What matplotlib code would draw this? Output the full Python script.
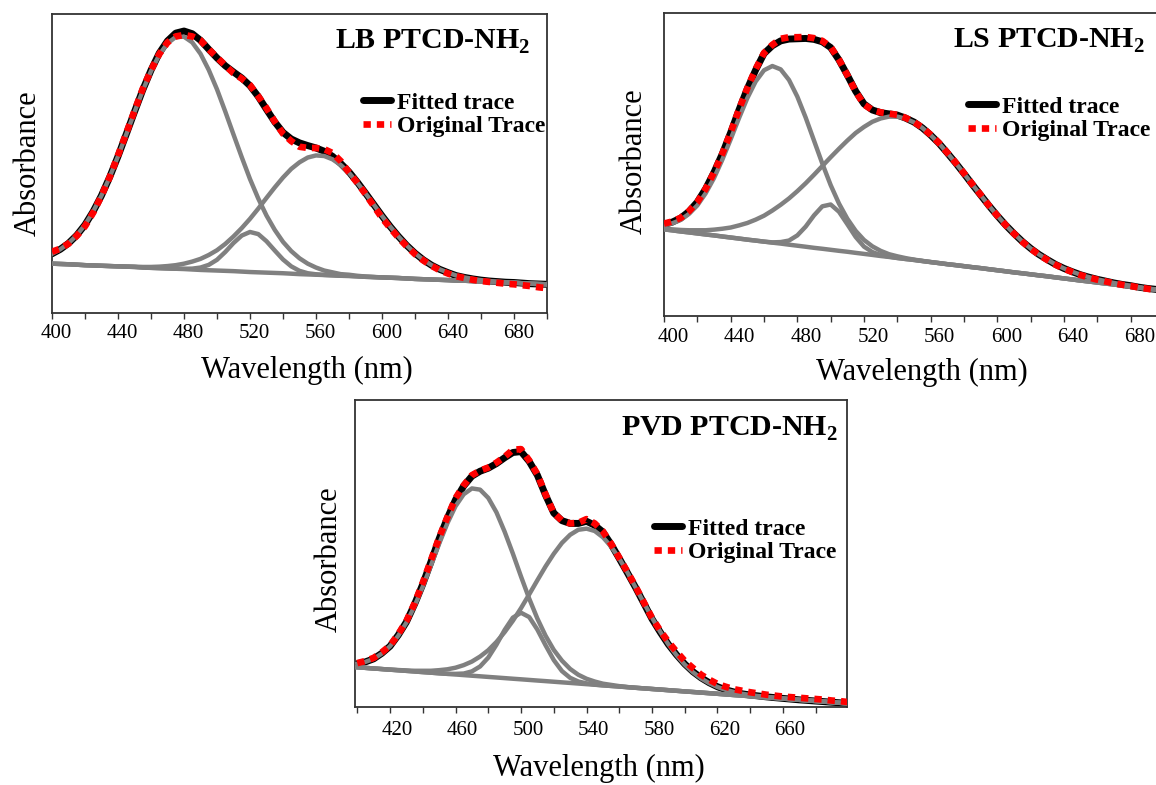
import matplotlib
matplotlib.use('Agg')
import matplotlib.pyplot as plt
from matplotlib.transforms import ScaledTranslation

# Fonts: Times-like serif everywhere
plt.rcParams['font.family'] = ['Liberation Serif', 'DejaVu Serif']
plt.rcParams['mathtext.fontset'] = 'custom'
plt.rcParams['mathtext.rm'] = 'Liberation Serif'
plt.rcParams['mathtext.bf'] = 'Liberation Serif:bold'

# Wavelength grid (nm)
wavelength = [400, 405, 410, 415, 420, 425, 430, 435, 440, 445, 450, 455, 460, 465, 470, 475,
              480, 485, 490, 495, 500, 505, 510, 515, 520, 525, 530, 535, 540, 545, 550, 555,
              560, 565, 570, 575, 580, 585, 590, 595, 600, 605, 610, 615, 620, 625, 630, 635,
              640, 645, 650, 655, 660, 665, 670, 675, 680, 685, 690, 695, 700]

# ---- LB PTCD-NH2 (absorbance, arbitrary units) ----
lb_baseline = [.165, .164, .163, .1616, .160, .159, .158, .157, .156, .155, .154, .152, .151, .150, .149, .148,
               .147, .1455, .144, .143, .142, .141, .140, .1385, .137, .136, .135, .134, .133, .1315, .130, .129,
               .128, .127, .126, .1245, .124, .1225, .121, .120, .119, .118, .117, .1155, .114, .113, .112, .111,
               .110, .1085, .108, .1065, .105, .104, .103, .102, .101, .0995, .098, .097, .096]
lb_peak1 = [.198, .213, .233, .260, .295, .340, .393, .455, .524, .597, .672, .744, .809, .863, .902, .923,
            .924, .905, .867, .813, .748, .674, .597, .521, .448, .383, .326, .278, .238, .207, .183, .165,
            .152, .142, .136, .130, .128, .1245, .122, .1206, .119, .118, .117, .1155, .114, .113, .112, .111,
            .110, .1085, .108, .1065, .105, .104, .103, .102, .101, .0995, .098, .097, .096]
lb_peak2 = [.165, .164, .163, .1616, .160, .159, .158, .157, .156, .155, .154, .152, .151, .150, .149, .148,
            .148, .1484, .152, .161, .178, .204, .234, .259, .271, .264, .240, .209, .179, .156, .141, .133,
            .1295, .1274, .126, .1245, .124, .1225, .121, .120, .119, .118, .117, .1155, .114, .113, .112, .111,
            .110, .1085, .108, .1065, .105, .104, .103, .102, .101, .0995, .098, .097, .096]
lb_peak3 = [.165, .164, .163, .1616, .160, .159, .158, .157, .156, .1557, .155, .154, .154, .155, .157, .160,
            .165, .172, .181, .194, .210, .231, .256, .284, .315, .349, .385, .420, .453, .482, .504, .520,
            .527, .525, .514, .495, .469, .436, .400, .363, .325, .289, .256, .226, .200, .178, .160, .146,
            .135, .1254, .119, .114, .110, .107, .105, .103, .102, .0999, .098, .097, .096]
lb_fitted = [.198, .213, .233, .260, .295, .340, .393, .455, .524, .598, .673, .746, .812, .869, .910, .936,
             .943, .934, .912, .882, .853, .827, .806, .786, .760, .724, .681, .639, .604, .582, .569, .560,
             .552, .541, .524, .500, .472, .438, .401, .363, .325, .289, .256, .226, .200, .178, .160, .146,
             .135, .125, .119, .114, .110, .107, .105, .103, .102, .100, .098, .097, .096]
lb_original = [.205, .215, .232, .258, .290, .336, .392, .455, .527, .601, .676, .750, .812, .866, .905, .925,
               .930, .925, .912, .882, .855, .828, .802, .784, .762, .725, .685, .640, .600, .575, .556, .552,
               .552, .548, .535, .508, .470, .436, .398, .358, .318, .284, .252, .223, .197, .176, .158, .143,
               .132, .123, .117, .111, .107, .104, .101, .098, .096, .093, .090, .086, .083]

# ---- LS PTCD-NH2 ----
ls_baseline = [.286, .2826, .279, .2759, .2725, .2691, .266, .2624, .259, .2556, .252, .2489, .2455, .2421, .239, .2354,
               .232, .2286, .225, .2219, .2185, .2151, .212, .2084, .205, .2016, .198, .1949, .1915, .1881, .185, .1814,
               .178, .1746, .171, .1679, .1645, .1611, .158, .1544, .151, .1476, .144, .1409, .1375, .1341, .131, .1274,
               .124, .1206, .117, .1139, .1105, .1071, .104, .1004, .097, .0936, .090, .0869, .0835]
ls_peak1 = [.299, .306, .317, .337, .365, .405, .455, .516, .583, .653, .719, .774, .811, .825, .814, .779,
            .724, .655, .579, .503, .432, .371, .321, .281, .251, .230, .215, .204, .197, .191, .186, .182,
            .178, .1746, .171, .1679, .1645, .1611, .158, .1544, .151, .1476, .144, .1409, .1375, .1341, .131, .1274,
            .124, .1206, .117, .1139, .1105, .1071, .104, .1004, .097, .0936, .090, .0869, .0835]
ls_peak2 = [.286, .2826, .279, .2759, .2725, .2691, .266, .2624, .259, .2556, .252, .2489, .2455, .243, .244, .249,
            .266, .295, .332, .362, .368, .344, .303, .261, .229, .211, .201, .196, .1915, .1881, .185, .1814,
            .178, .1746, .171, .1679, .1645, .1611, .158, .1544, .151, .1476, .144, .1409, .1375, .1341, .131, .1274,
            .124, .1206, .117, .1139, .1105, .1071, .104, .1004, .097, .0936, .090, .0869, .0835]
ls_peak3 = [.289, .286, .284, .283, .283, .283, .285, .288, .292, .299, .307, .318, .331, .348, .367, .388,
            .412, .438, .466, .495, .524, .552, .579, .604, .624, .641, .652, .658, .658, .651, .639, .621,
            .597, .570, .538, .505, .470, .434, .399, .364, .331, .300, .272, .246, .223, .203, .186, .170,
            .157, .146, .136, .128, .121, .115, .109, .104, .100, .095, .091, .088, .084]
ls_fitted = [.302, .310, .323, .345, .376, .420, .474, .535, .605, .680, .750, .812, .866, .892, .908, .914,
             .915, .916, .913, .905, .886, .845, .795, .742, .700, .680, .671, .667, .663, .653, .640, .621,
             .597, .570, .538, .505, .470, .434, .399, .364, .331, .300, .272, .246, .223, .203, .186, .170,
             .157, .146, .136, .128, .121, .115, .109, .104, .100, .095, .091, .088, .084]
ls_original = [.305, .312, .324, .346, .376, .420, .474, .536, .606, .682, .752, .815, .868, .895, .915, .920,
               .920, .921, .917, .908, .888, .846, .795, .741, .698, .680, .672, .668, .664, .654, .640, .622,
               .598, .571, .539, .506, .471, .435, .400, .364, .331, .300, .272, .245, .222, .202, .185, .169,
               .156, .145, .135, .127, .120, .114, .108, .103, .099, .094, .090, .086, .082]

# ---- PVD PTCD-NH2 ----
pvd_baseline = [.1295, .1275, .1255, .1236, .1216, .1197, .1177, .1157, .1137, .1118, .1098, .1079, .1059, .1039,
                .1019, .100, .098, .0961, .0941, .0921, .0902, .0882, .0862, .0843, .0823, .0803, .0784, .0764,
                .0744, .0725, .0705, .0686, .0666, .0646, .0626, .0607, .0587, .0568, .0548, .0528, .0508, .0489,
                .0469, .045, .043, .041, .039, .0371, .0351, .0332, .0312, .0293, .0273, .0253, .0233, .0214,
                .0194, .0175, .0155, .0135, .0115]
pvd_peak1 = [.141, .147, .157, .174, .198, .232, .275, .329, .392, .461, .532, .598, .654, .693, .712, .708,
             .681, .634, .571, .500, .425, .353, .288, .232, .186, .151, .124, .105, .092, .083, .076, .072,
             .068, .065, .0626, .0607, .0587, .0568, .0548, .0528, .0508, .0489, .0469, .045, .043, .041, .039,
             .0371, .0351, .0332, .0312, .0293, .0273, .0253, .0233, .0214, .0194, .0175, .0155, .0135, .0115]
pvd_peak2 = [.1295, .1275, .1255, .1236, .1216, .1197, .1177, .1157, .1137, .1118, .1098, .108, .108, .109, .116, .132,
             .161, .203, .251, .291, .307, .293, .252, .201, .153, .117, .095, .083, .077, .073, .0705, .0686,
             .0666, .0646, .0626, .0607, .0587, .0568, .0548, .0528, .0508, .0489, .0469, .045, .043, .041, .039,
             .0371, .0351, .0332, .0312, .0293, .0273, .0253, .0233, .0214, .0194, .0175, .0155, .0135, .0115]
pvd_peak3 = [.1295, .1275, .1255, .1236, .1216, .1205, .119, .118, .118, .118, .120, .1228, .128, .1364, .148, .1644,
             .185, .2119, .244, .2807, .322, .3669, .413, .458, .499, .5345, .561, .5773, .581, .5734, .553, .5228,
             .484, .4383, .389, .3394, .291, .2454, .204, .1686, .138, .1133, .093, .0775, .065, .0559, .049,
             .0433, .039, .0355, .033, .0301, .028, .0253, .0233, .0214, .0194, .0175, .0155, .0135, .0115]
pvd_fitted = [.141, .147, .157, .175, .198, .234, .277, .335, .400, .473, .548, .615, .675, .720, .752, .768,
              .778, .793, .812, .829, .832, .800, .755, .690, .632, .607, .598, .598, .605, .592, .570, .530,
              .484, .437, .389, .338, .287, .244, .204, .170, .140, .115, .095, .079, .066, .056, .049,
              .043, .039, .036, .033, .0305, .028, .0257, .0233, .0214, .0194, .0175, .0155, .0135, .0115]
pvd_original = [.143, .150, .160, .178, .200, .237, .280, .338, .405, .478, .552, .618, .680, .722, .755, .770,
                .780, .796, .815, .838, .840, .803, .758, .692, .632, .607, .598, .600, .612, .598, .572, .532,
                .486, .440, .392, .341, .290, .249, .212, .180, .150, .127, .105, .089, .075, .066, .058,
                .053, .048, .044, .040, .037, .034, .032, .030, .028, .026, .024, .021, .019, .016]

GRAY = '#808080'
RED = '#ff0000'


def draw_panel(ax, title, base, peaks, fitted, original, xlim, major, minor,
               title_xy, legend_xy, ylabel_xy, xlabel_xy, tick_pad, label_shift):
    ax.plot(wavelength, fitted, color='black', lw=5, solid_capstyle='round',
            label='Fitted trace', zorder=2)
    ax.plot(wavelength, base, color=GRAY, lw=3.2, zorder=3)
    for p in peaks:
        ax.plot(wavelength, p, color=GRAY, lw=3.2, zorder=3)
    ax.plot(wavelength, original, color=RED, lw=4.8, linestyle=(0, (1.1, 0.9)),
            dash_capstyle='butt', label='Original Trace', zorder=4)

    ax.set_xlim(*xlim)
    ax.set_ylim(0, 1)
    ax.set_yticks([])
    ax.set_xticks(major)
    ax.set_xticks(minor, minor=True)
    ax.tick_params(axis='x', which='both', direction='out', length=4, width=1,
                   labelsize=15, pad=tick_pad, color='#333333')
    for s in ax.spines.values():
        s.set_color('#333333')
        s.set_linewidth(1.3)

    # tick labels sit a little to the right of their ticks in the original
    shift = ScaledTranslation(label_shift / 100, 0, ax.figure.dpi_scale_trans)
    for lbl in ax.get_xticklabels():
        lbl.set_transform(lbl.get_transform() + shift)

    ax.set_xlabel('Wavelength (nm)', fontsize=22)
    ax.xaxis.set_label_coords(*xlabel_xy)
    ax.set_ylabel('Absorbance', fontsize=22)
    ax.yaxis.set_label_coords(*ylabel_xy)

    ax.text(title_xy[0], title_xy[1], title, transform=ax.transAxes, ha='right',
            va='baseline', fontsize=21.5, fontweight='bold')

    ax.legend(loc='upper left', bbox_to_anchor=legend_xy, frameon=False,
              prop={'weight': 'bold', 'size': 17}, handlelength=1.2,
              handletextpad=0.25, labelspacing=0.1, borderpad=0, borderaxespad=0)


fig = plt.figure(figsize=(11.56, 7.85), dpi=100)

ax1 = fig.add_axes([0.04498, 0.60127, 0.42820, 0.38089])
draw_panel(ax1, r'LB PTCD-NH$_\mathbf{2}$', lb_baseline, [lb_peak1, lb_peak2, lb_peak3],
           lb_fitted, lb_original, (400, 700),
           [400, 440, 480, 520, 560, 600, 640, 680],
           [420, 460, 500, 540, 580, 620, 660, 700],
           title_xy=(0.966, 0.883), legend_xy=(0.628, 0.739),
           ylabel_xy=(-0.019, 0.5), xlabel_xy=(0.514, -0.143),
           tick_pad=4, label_shift=4.5)

ax2 = fig.add_axes([0.57439, 0.59745, 0.43253, 0.38599])
draw_panel(ax2, r'LS PTCD-NH$_\mathbf{2}$', ls_baseline, [ls_peak1, ls_peak2, ls_peak3],
           ls_fitted, ls_original, (400, 700),
           [400, 440, 480, 520, 560, 600, 640, 680],
           [420, 460, 500, 540, 580, 620, 660, 700],
           title_xy=(0.962, 0.8835), legend_xy=(0.608, 0.726),
           ylabel_xy=(-0.0308, 0.51), xlabel_xy=(0.515, -0.138),
           tick_pad=4.5, label_shift=9)

ax3 = fig.add_axes([0.30709, 0.09936, 0.42561, 0.39108])
draw_panel(ax3, r'PVD PTCD-NH$_\mathbf{2}$', pvd_baseline, [pvd_peak1, pvd_peak2, pvd_peak3],
           pvd_fitted, pvd_original, (398.6, 699.1),
           [420, 460, 500, 540, 580, 620, 660],
           [400, 440, 480, 520, 560, 600, 640, 680],
           title_xy=(0.9817, 0.8827), legend_xy=(0.608, 0.6156),
           ylabel_xy=(-0.0232, 0.48), xlabel_xy=(0.495, -0.152),
           tick_pad=6, label_shift=7)

fig.savefig('out.png', dpi=100)
